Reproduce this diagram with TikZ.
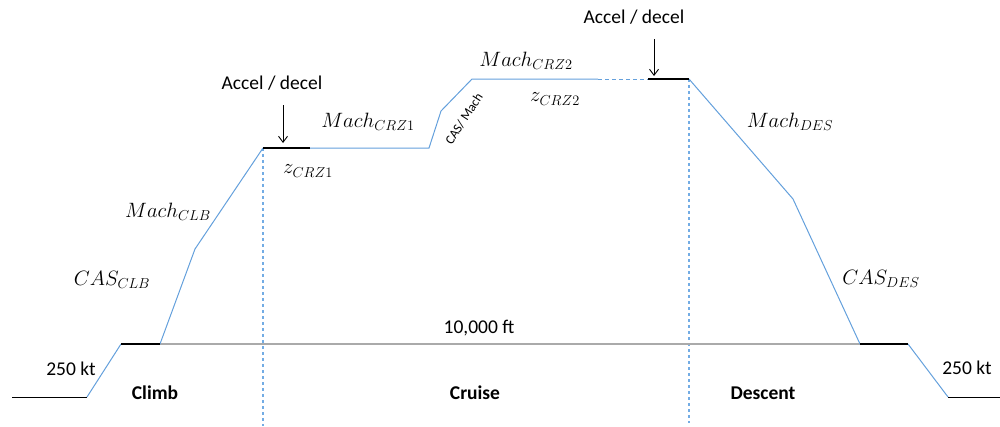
\documentclass[tikz,border=0pt]{standalone}
\usepackage{fontspec}
\setmainfont{Carlito}
\usetikzlibrary{arrows.meta}
\definecolor{profblue}{RGB}{100,160,220}
\definecolor{vblue}{RGB}{115,172,228}
\definecolor{lvlgray}{RGB}{170,170,170}
\tikzset{
  prof/.style={draw=profblue, line width=1pt},
  hold/.style={draw=black, line width=2.6pt},
  ground/.style={draw=black, line width=0.9pt},
  level/.style={draw=lvlgray, line width=1.3pt},
  vdash/.style={draw=vblue, line width=1.1pt, dash pattern=on 3pt off 3pt},
  ptr/.style={draw=black, line width=0.9pt, -{Straight Barb[length=6pt,width=9pt]}},
  lbl/.style={inner sep=0pt, font=\fontsize{19.5}{22}\selectfont},
  blbl/.style={inner sep=0pt, font=\fontsize{19.5}{22}\selectfont\bfseries},
  mlbl/.style={inner sep=0pt, font=\fontsize{19.5}{22}\selectfont},
  slbl/.style={inner sep=0pt, font=\fontsize{13}{14}\selectfont}
}
\begin{document}
\begin{tikzpicture}[x=1pt,y=-1pt]
\useasboundingbox (0,0) rectangle (1000,426);
% profile points
\coordinate (g0) at (12,397);
\coordinate (p1) at (87,397);
\coordinate (p2) at (121,344);
\coordinate (p3) at (160,344);
\coordinate (p4) at (195,249);
\coordinate (p5) at (263,148);
\coordinate (p6) at (310,148);
\coordinate (p7) at (429,148);
\coordinate (p8) at (441,111);
\coordinate (p9) at (472,79);
\coordinate (p10) at (598,79);
\coordinate (p11) at (648,79);
\coordinate (p12) at (689,79);
\coordinate (p13) at (793,199);
\coordinate (p14) at (860,344);
\coordinate (p15) at (908,344);
\coordinate (p16) at (948,397);
\coordinate (g1) at (1000,397);
\coordinate (v1b) at (263,426);
\coordinate (v2b) at (689,423);

% verticals
\draw[vdash] (p5) -- (v1b);
\draw[vdash] (p12) -- (v2b);
% 10,000 ft level
\draw[level] (p3) -- (p14);
% ground
\draw[ground] (g0) -- (p1);
\draw[ground] (p16) -- (g1);
% profile
\draw[prof] (p1) -- (p2);
\draw[prof] (p3) -- (p4) -- (p5);
\draw[prof] (p6) -- (p7) -- (p8) -- (p9) -- (p10);
\draw[prof, dash pattern=on 4pt off 3pt] (p10) -- (p11);
\draw[prof] (p12) -- (p13) -- (p14);
\draw[prof] (p15) -- (p16);
% holds
\draw[hold] (p2) -- (p3);
\draw[hold] (p5) -- (p6);
\draw[hold] (p11) -- (p12);
\draw[hold] (p14) -- (p15);

% accel/decel labels and arrows
\node[lbl] (ad1) at (272,83) {Accel / decel};
\coordinate (a1s) at (283,105);
\coordinate (a1e) at (283,143);
\draw[ptr] (a1s) -- (a1e);
\node[lbl] (ad2) at (634,17) {Accel / decel};
\coordinate (a2s) at (654,39);
\coordinate (a2e) at (654,76);
\draw[ptr] (a2s) -- (a2e);

% math labels
\node[mlbl] (mclb) at (168,212) {$Mach_{CLB}$};
\node[mlbl] (cclb) at (112,280) {$CAS_{CLB}$};
\node[mlbl] (zc1) at (308,171) {$z_{CRZ1}$};
\node[mlbl] (mc1) at (368,122) {$Mach_{CRZ1}$};
\node[mlbl] (mc2) at (526,61) {$Mach_{CRZ2}$};
\node[mlbl] (zc2) at (555,99) {$z_{CRZ2}$};
\node[mlbl] (mdes) at (790,122) {$Mach_{DES}$};
\node[mlbl] (cdes) at (881,279) {$CAS_{DES}$};
\node[slbl, rotate=57] (cm) at (464,119) {CAS/ Mach};

% text labels
\node[lbl] (kt1) at (71,369) {250 kt};
\node[lbl] (kt2) at (967,368) {250 kt};
\node[lbl] (ft) at (479,328) {10,000 ft};
\node[blbl] (climb) at (155,393) {Climb};
\node[blbl] (cruise) at (475,393) {Cruise};
\node[blbl] (descent) at (763,393) {Descent};
\end{tikzpicture}
\end{document}
